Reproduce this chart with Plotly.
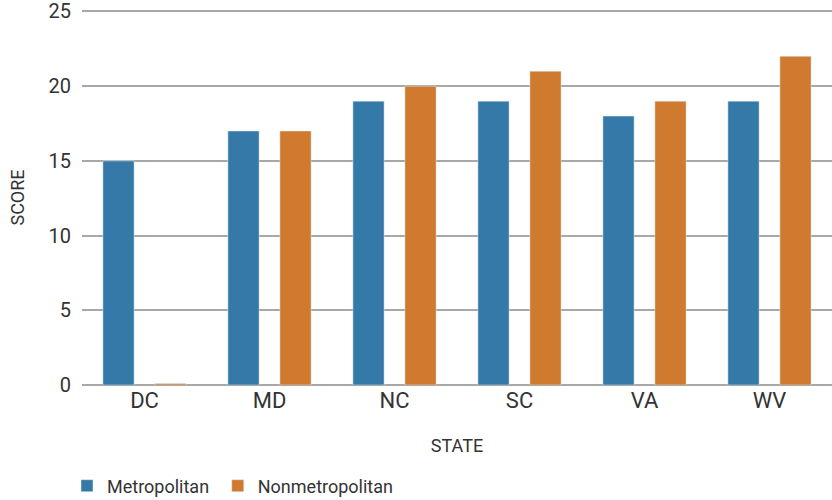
import plotly.graph_objects as go

states = ["DC", "MD", "NC", "SC", "VA", "WV"]
metro = [15, 17, 19, 19, 18, 19]
nonmetro = [0.1, 17, 20, 21, 19, 22]
y_ticks = [0, 5, 10, 15, 20, 25]

FONT = "Roboto, sans-serif"
BLUE = "#3579a8"
ORANGE = "#cf7a2e"
TXT = "#333333"

fig = go.Figure()
fig.add_trace(go.Bar(x=states, y=metro, name="Metropolitan", marker_color=BLUE, legend="legend"))
fig.add_trace(go.Bar(x=states, y=nonmetro, name="Nonmetropolitan", marker_color=ORANGE, legend="legend2"))

leg_common = dict(orientation="h", xanchor="left", y=-0.22, yanchor="top",
                  font=dict(size=18, color=TXT), bgcolor="rgba(0,0,0,0)")

fig.update_layout(
    width=832, height=500,
    margin=dict(l=82, r=0, t=10, b=115, pad=0, autoexpand=False),
    barmode="group", bargap=0.168, bargroupgap=0.4,
    plot_bgcolor="white", paper_bgcolor="white",
    font=dict(family=FONT, color=TXT, size=20),
    showlegend=True,
    legend=dict(x=-0.02, **leg_common),
    legend2=dict(x=0.181, **leg_common),
)
fig.update_xaxes(
    title=dict(text="STATE", font=dict(size=18, color=TXT), standoff=27),
    tickfont=dict(size=22, color=TXT),
    showgrid=False, showline=False, ticks="", zeroline=False,
    automargin=False,
)
fig.update_yaxes(
    range=[0, 25.1], tickvals=y_ticks,
    title=dict(text="SCORE", font=dict(size=18, color=TXT), standoff=19),
    tickfont=dict(size=20, color=TXT),
    showgrid=True, gridcolor="#a8a8a8", gridwidth=1.5,
    zeroline=True, zerolinecolor="#a8a8a8", zerolinewidth=1.5,
    showline=False, ticks="", ticklabelstandoff=10, ticklabeloverflow="allow",
    automargin=False,
)

fig.write_html("out.html")
